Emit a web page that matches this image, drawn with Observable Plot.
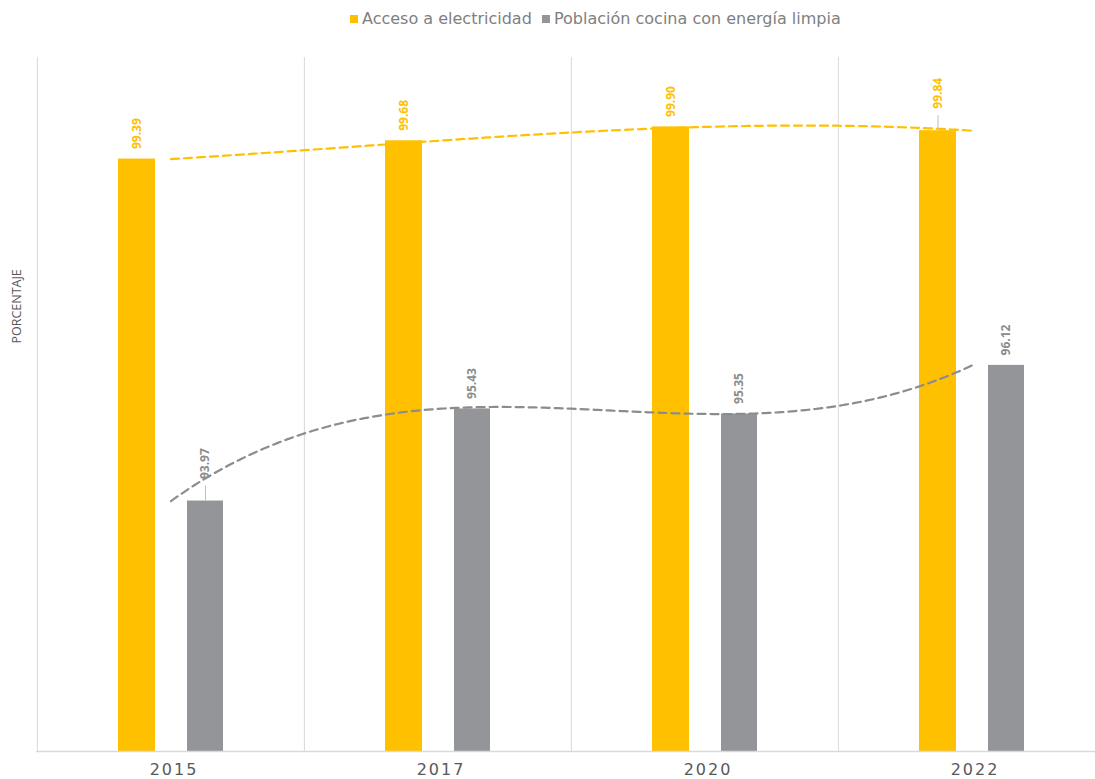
<!DOCTYPE html>
<html>
<head>
<meta charset="utf-8">
<script src="https://cdn.jsdelivr.net/npm/d3@7"></script>
<script src="https://cdn.jsdelivr.net/npm/@observablehq/plot@0.6"></script>
<style>
  html, body { margin: 0; padding: 0; background: #fff; }
  #legend { height: 40px; position: relative; font-family: "DejaVu Sans", sans-serif; font-size: 16px; color: #808080; }
  #legend .item { position: absolute; top: 9px; display: flex; align-items: center; white-space: nowrap; }
  #legend .sw { width: 8px; height: 8px; margin-right: 4px; }
  svg g[aria-label="x-axis tick label"] text { letter-spacing: 2px; }
</style>
</head>
<body>
<div id="legend"></div>
<div id="chart"></div>
<script>
const years = ["2015", "2017", "2020", "2022"];
const seriesNames = ["Acceso a electricidad", "Población cocina con energía limpia"];
const electricidad = [99.39, 99.68, 99.90, 99.84];
const cocinaLimpia = [93.97, 95.43, 95.35, 96.12];
// labels that Excel lifted above their bar with a leader line
const raisedLabels = ["2015|Población cocina con energía limpia", "2022|Acceso a electricidad"];
const colors = ["#FFC000", "#939598"];
const trendColors = ["#FFC000", "#8c8c8c"];

const data = [];
years.forEach((y, i) => {
  data.push({year: y, series: seriesNames[0], value: electricidad[i]});
  data.push({year: y, series: seriesNames[1], value: cocinaLimpia[i]});
});
data.forEach(d => d.raised = raisedLabels.includes(d.year + "|" + d.series));
const elec = data.filter(d => d.series === seriesNames[0]);
const coc = data.filter(d => d.series === seriesNames[1]);

// Excel-style polynomial (order 3) trendline rendered as a custom curve
function polyCurve(context) {
  let pts = [];
  return {
    areaStart() {}, areaEnd() {},
    lineStart() { pts = []; },
    lineEnd() {
      const n = pts.length;
      if (!n) return;
      const xa = pts[0][0], xb = pts[n - 1][0];
      const N = 240;
      for (let k = 0; k <= N; k++) {
        const x = xa + (xb - xa) * k / N;
        let y = 0;
        for (let i = 0; i < n; i++) {
          let L = 1;
          for (let j = 0; j < n; j++) if (j !== i) L *= (x - pts[j][0]) / (pts[i][0] - pts[j][0]);
          y += L * pts[i][1];
        }
        if (k === 0) context.moveTo(x, y); else context.lineTo(x, y);
      }
    },
    point(x, y) { pts.push([+x, +y]); }
  };
}

// legend
const legend = document.getElementById("legend");
const legendPos = [350, 542];
seriesNames.forEach((s, i) => {
  const it = document.createElement("div");
  it.className = "item";
  it.style.left = legendPos[i] + "px";
  it.innerHTML = `<span class="sw" style="background:${colors[i]}"></span><span>${s}</span>`;
  legend.appendChild(it);
});

const W = 1095, H = 739, mT = 17, mB = 28;
const yDomain = [90, 101];
const step = (1105 - 36) / years.length;
const pxUnit = (yDomain[1] - yDomain[0]) / (H - mT - mB); // data units per pixel
const labelFont = {fontSize: 12, fontWeight: "bold", fontFamily: "Open Sans"};
const leader = 15; // px

function labels(rows, color, dx) {
  const normal = rows.filter(d => !d.raised);
  const raised = rows.filter(d => d.raised);
  return [
    Plot.ruleX(raised, {x: "year", y1: "value", y2: d => d.value + leader * pxUnit, dx, stroke: "#bfbfbf", strokeWidth: 1}),
    Plot.text(normal, {x: "year", y: "value", text: d => d.value.toFixed(2), rotate: -90, textAnchor: "start", dx, dy: -10, fill: color, ...labelFont}),
    Plot.text(raised, {x: "year", y: "value", text: d => d.value.toFixed(2), rotate: -90, textAnchor: "start", dx, dy: -22, fill: color, ...labelFont})
  ];
}

const chart = Plot.plot({
  width: W,
  height: H,
  marginTop: mT,
  marginBottom: mB,
  marginLeft: 36,
  marginRight: 0,
  style: {fontFamily: "DejaVu Sans", background: "#fff"},
  x: {type: "band", domain: years, range: [36, 1105], padding: 0, axis: null},
  y: {domain: yDomain, axis: null},
  marks: [
    Plot.ruleX(years, {x: d => d, dx: -step / 2, y1: yDomain[0], y2: yDomain[1], stroke: "#d9d9d9", strokeWidth: 1}),
    Plot.barY(elec, {x: "year", y: "value", fill: colors[0], insetLeft: 81, insetRight: 149, clip: true}),
    Plot.barY(coc, {x: "year", y: "value", fill: colors[1], insetLeft: 150, insetRight: 81, clip: true}),
    Plot.ruleY([yDomain[0]], {stroke: "#d9d9d9", strokeWidth: 1.5}),
    Plot.line(elec, {x: "year", y: "value", stroke: trendColors[0], strokeWidth: 2.2, strokeDasharray: "8,5", curve: polyCurve}),
    Plot.line(coc, {x: "year", y: "value", stroke: trendColors[1], strokeWidth: 2.2, strokeDasharray: "8,5", curve: polyCurve}),
    ...labels(elec, colors[0], -34),
    ...labels(coc, "#8c8c8c", 34.5),
    Plot.axisX({tickSize: 0, tickPadding: 12, fontSize: 16, fill: "#595959", fontFamily: "DejaVu Sans", label: null, dx: 3}),
    Plot.text(["PORCENTAJE"], {frameAnchor: "left", dx: -20, dy: -61, rotate: -90, fontSize: 12.5, fill: "#595959", fontFamily: "Open Sans"})
  ]
});
document.getElementById("chart").appendChild(chart);
</script>
</body>
</html>
